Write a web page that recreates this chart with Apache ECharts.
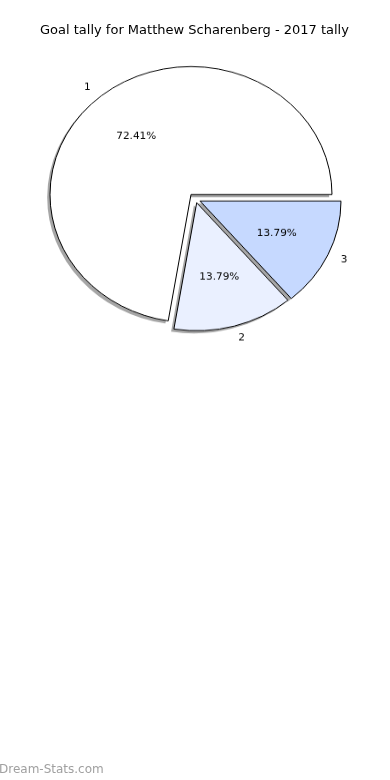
<!DOCTYPE html>
<html>
<head>
<meta charset="utf-8">
<script src="https://cdn.jsdelivr.net/npm/echarts@6/dist/echarts.min.js"></script>
<style>
html,body{margin:0;padding:0;background:#fff;}
#base{position:absolute;left:0;top:0;width:390px;height:780px;}
#pie{position:absolute;left:0;top:0;width:390px;height:859px;transform:scaleY(0.9078);transform-origin:0 0;}
</style>
</head>
<body>
<div id="base"></div>
<div id="pie"></div>
<script>
const titleText = 'Goal tally for Matthew Scharenberg - 2017 tally';
const categories = ['1', '2', '3'];
const values = [21, 4, 4];
const colors = ['#ffffff', '#eaf0ff', '#c6d9ff'];

const base = echarts.init(document.getElementById('base'), null, {renderer: 'canvas'});
base.setOption({
  backgroundColor: '#ffffff',
  title: {
    text: titleText, left: 40, top: 24, padding: 0,
    textStyle: {fontFamily: 'DejaVu Sans', fontSize: 13, fontWeight: 'normal', color: '#000'}
  },
  graphic: [{
    type: 'text', left: -1, top: 764,
    style: {text: 'Dream-Stats.com', fontFamily: 'DejaVu Sans', fontSize: 12, fontWeight: 'normal', fill: '#a0a0a0'}
  }]
});

const total = values.reduce((a, b) => a + b, 0);
const R = 141;
// wedge centres (in the unscaled pie canvas)
const centers = [[191, 214.3], [196.7, 223.3], [200, 221.4]];
const shadowOffset = [-2.8, 2.9];
const fontStyle = {fontFamily: 'DejaVu Sans', fontSize: 10.5, color: '#000'};
const hidden = {color: 'transparent', borderWidth: 0};

function dataFor(idx, visibleStyle, labelOpt) {
  return categories.map((c, i) => {
    if (i === idx) return {name: c, value: values[i], itemStyle: visibleStyle, label: labelOpt};
    return {name: c, value: values[i], itemStyle: hidden, label: {show: false}};
  });
}

const series = [];
categories.forEach((c, idx) => {
  const common = {
    type: 'pie', startAngle: 0, clockwise: false,
    silent: true, animation: false, emphasis: {disabled: true}, avoidLabelOverlap: false,
    labelLine: {show: false}, minAngle: 0
  };
  // shadow
  series.push(Object.assign({}, common, {
    center: [centers[idx][0] + shadowOffset[0], centers[idx][1] + shadowOffset[1]],
    radius: [0, R],
    z: 1 + 2 * idx,
    data: dataFor(idx, {color: 'rgba(77,77,77,0.5)', borderWidth: 0}, {show: false})
  }));
  // wedge
  series.push(Object.assign({}, common, {
    center: centers[idx],
    radius: [0, R],
    z: 2 + 2 * idx,
    data: dataFor(idx, {color: colors[idx], borderColor: '#000', borderWidth: 1}, {show: false})
  }));
  // percentage label at 0.6 R (ECharts pushes inside labels 3px outward)
  series.push(Object.assign({}, common, {
    center: centers[idx],
    radius: [0.2 * R - 6, R],
    z: 20,
    data: dataFor(idx, hidden, Object.assign({
      show: true, position: 'inside',
      formatter: p => (p.value / total * 100).toFixed(2) + '%'
    }, fontStyle))
  }));
  // category label at 1.1 R
  series.push(Object.assign({}, common, {
    center: centers[idx],
    radius: [R - 6, 1.2 * R],
    z: 20,
    data: dataFor(idx, hidden, Object.assign({show: true, position: 'inside', formatter: '{b}'}, fontStyle)),
    labelLayout: function () {
      return {align: idx === 0 ? 'right' : 'left'};
    }
  }));
});

const pie = echarts.init(document.getElementById('pie'), null, {renderer: 'canvas'});
pie.setOption({backgroundColor: 'transparent', series: series});
</script>
</body>
</html>
